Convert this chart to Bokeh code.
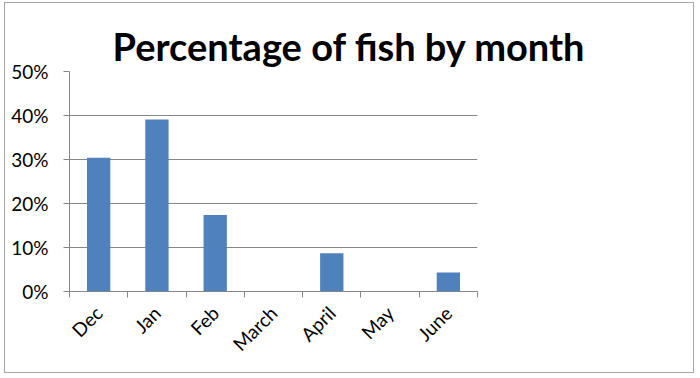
from math import pi
from bokeh.plotting import figure
from bokeh.models import Range1d, FixedTicker, NumeralTickFormatter, Title, ColumnDataSource
from bokeh.embed import file_html
from bokeh.resources import INLINE

months = ["Dec", "Jan", "Feb", "March", "April", "May", "June"]
pct = [0.304, 0.391, 0.174, 0.0, 0.087, 0.0, 0.043]
y_ticks = [0.0, 0.1, 0.2, 0.3, 0.4, 0.5]
title_text = "Percentage of fish by month"

FONT = "Lato"
GRAY = "#868686"

src = ColumnDataSource(dict(x=list(range(len(months))), pct=pct, month=months))

p = figure(width=690, height=371, output_backend="svg", toolbar_location=None,
           x_range=Range1d(-0.5, len(months) - 0.5), y_range=Range1d(0, 0.5),
           min_border_left=64, min_border_right=218, min_border_top=68, min_border_bottom=83)
p.styles = {"border": "1px solid #a6a6a6", "margin-left": "4px", "margin-top": "2px"}
p.outline_line_color = None
p.background_fill_color = "white"
p.border_fill_color = "white"

p.vbar(x="x", top="pct", width=0.4, source=src, fill_color="#4F81BD", line_color=None)

# y axis
p.yaxis.ticker = FixedTicker(ticks=y_ticks)
p.yaxis.formatter = NumeralTickFormatter(format="0%")
p.yaxis.axis_line_color = GRAY
p.yaxis.major_tick_line_color = GRAY
p.yaxis.major_tick_out = 6
p.yaxis.major_tick_in = 0
p.yaxis.minor_tick_line_color = None
p.yaxis.major_label_text_font = FONT
p.yaxis.major_label_text_font_size = "19px"
p.yaxis.major_label_text_color = "black"
p.yaxis.major_label_standoff = 15

# x axis
p.xaxis.ticker = FixedTicker(ticks=list(range(len(months))),
                             minor_ticks=[i - 0.5 for i in range(len(months) + 1)])
p.xaxis.major_label_overrides = {i: m for i, m in enumerate(months)}
p.xaxis.axis_line_color = GRAY
p.xaxis.major_tick_line_color = None
p.xaxis.major_tick_out = 0
p.xaxis.major_tick_in = 0
p.xaxis.minor_tick_line_color = GRAY
p.xaxis.minor_tick_out = 6
p.xaxis.minor_tick_in = 0
p.xaxis.major_label_orientation = pi / 4
p.xaxis.major_label_text_font = FONT
p.xaxis.major_label_text_font_size = "19px"
p.xaxis.major_label_text_color = "black"
p.xaxis.major_label_standoff = 12

p.xgrid.visible = False
p.ygrid.grid_line_color = GRAY
p.ygrid.grid_line_width = 1

p.title = Title(text=title_text, align="left", offset=43, standoff=6,
                text_font=FONT, text_font_style="bold", text_font_size="38px",
                text_color="black")

open("out.html", "w").write(file_html(p, INLINE))
